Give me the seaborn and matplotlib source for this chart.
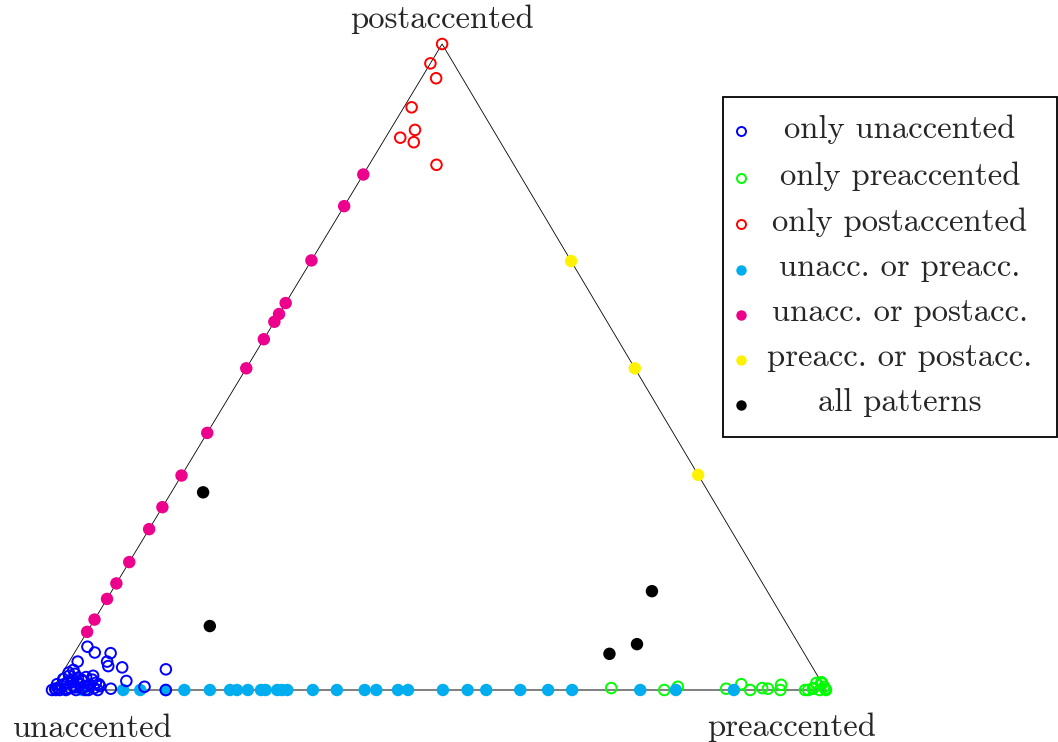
import numpy as np
import pandas as pd
import matplotlib
matplotlib.use("Agg")
import matplotlib.pyplot as plt
from matplotlib.lines import Line2D
from matplotlib.patches import Rectangle
import seaborn as sns

# ---- data: ternary shares (preaccented share, postaccented share); unaccented = 1 - p - q ----
only_unacc_pre = [0.012, 0.026, 0.047, 0.049, 0.054, 0.073, 0.011, 0.089, 0.117, 0.131, 0.147,
                  0.075, 0.056, 0.012,
                  0.000, 0.003, 0.006, 0.010, 0.010, 0.011, 0.017, 0.015, 0.022, 0.018, 0.025,
                  0.031, 0.024, 0.032, 0.037, 0.034, 0.034, 0.047, 0.045, 0.044, 0.053, 0.051,
                  0.059, 0.059, 0.002, 0.006, 0.011, 0.017, 0.030, 0.042, 0.042, 0.005, 0.018, 0.043,
                  0.008, 0.020, 0.028]
only_unacc_post = [0.067, 0.058, 0.057, 0.044, 0.037, 0.035, 0.044, 0.014, 0.005, 0.032, 0.000,
                   0.002, 0.009, 0.031,
                   0.000, 0.002, 0.003, 0.000, 0.006, 0.009, 0.002, 0.011, 0.003, 0.016, 0.006,
                   0.000, 0.019, 0.009, 0.003, 0.014, 0.020, 0.000, 0.008, 0.016, 0.003, 0.011,
                   0.000, 0.006, 0.009, 0.017, 0.022, 0.025, 0.016, 0.006, 0.022, 0.000, 0.000, 0.000,
                   0.027, 0.012, 0.004]

only_pre_pre = [0.721, 0.791, 0.806, 0.870, 0.886, 0.902, 0.916, 0.924, 0.941, 0.938, 0.973,
                0.982, 0.977, 0.982, 0.988, 0.990, 0.982, 0.992, 0.998, 1.000, 0.995]
only_pre_post = [0.003, 0.000, 0.005, 0.002, 0.009, 0.000, 0.003, 0.002, 0.000, 0.008, 0.000,
                 0.002, 0.000, 0.011, 0.012, 0.010, 0.003, 0.000, 0.002, 0.000, 0.005]

only_post_pre = [0.000, 0.000, 0.019, 0.010, 0.032, 0.019, 0.040, 0.087]
only_post_post = [1.000, 0.970, 0.947, 0.902, 0.867, 0.855, 0.848, 0.813]

unacc_or_pre_pre = [0.039, 0.092, 0.114, 0.147, 0.171, 0.204, 0.230, 0.239, 0.253, 0.270, 0.276,
                    0.291, 0.297, 0.304, 0.337, 0.368, 0.404, 0.419, 0.447, 0.460, 0.505, 0.537,
                    0.561, 0.605, 0.641, 0.672, 0.760, 0.806, 0.881]

unacc_or_post_post = [0.798, 0.749, 0.665, 0.599, 0.582, 0.570, 0.543, 0.498, 0.398, 0.332,
                      0.283, 0.249, 0.198, 0.165, 0.141, 0.109, 0.090]

pre_or_post_post = [0.664, 0.498, 0.333]

all_pre = [0.041, 0.154, 0.692, 0.720, 0.698]
all_post = [0.306, 0.099, 0.056, 0.071, 0.153]

labels = ["only unaccented", "only preaccented", "only postaccented",
          "unacc. or preacc.", "unacc. or postacc.", "preacc. or postacc.", "all patterns"]
colors = ["#0000ff", "#00ff00", "#ff0000", "#00aeef", "#ec008c", "#fff200", "#000000"]
vertex_names = ["unaccented", "preaccented", "postaccented"]

# ---- ternary geometry ----
CX, CY = 0.504, 0.8346  # apex position in axis units (base length 1)


def to_xy(p, q):
    p = np.asarray(p, float)
    q = np.asarray(q, float)
    return p + CX * q, CY * q


groups = [
    (only_unacc_pre, only_unacc_post),
    (only_pre_pre, only_pre_post),
    (only_post_pre, only_post_post),
    (unacc_or_pre_pre, [0.0] * len(unacc_or_pre_pre)),
    ([0.0] * len(unacc_or_post_post), unacc_or_post_post),
    ([1 - v for v in pre_or_post_post], pre_or_post_post),
    (all_pre, all_post),
]
frames = []
for i, (p, q) in enumerate(groups):
    x, y = to_xy(p, q)
    frames.append(pd.DataFrame({"x": x, "y": y, "group": labels[i]}))
df = pd.concat(frames, ignore_index=True)

sns.set_theme(style="white")
plt.rcParams["font.family"] = ["cmr10", "DejaVu Serif"]
plt.rcParams["axes.formatter.use_mathtext"] = True

W, H = 1058, 742
fig = plt.figure(figsize=(W / 100, H / 100), dpi=100)
ax = fig.add_axes([52 / W, 52 / H, 774 / W, 646 / H])
ax.set_xlim(0, 1)
ax.set_ylim(0, CY)
ax.axis("off")

# triangle
ax.plot([0, CX, 1], [0, CY, 0], color="black", lw=0.6, zorder=1, clip_on=False)
ax.plot([0, 1], [0, 0], color="#7f7f7f", lw=1.4, zorder=1, clip_on=False)

order = [1, 3, 0, 2, 4, 5, 6]
for i in order:
    sub = df[df["group"] == labels[i]]
    if i in (0, 1, 2):
        sns.scatterplot(data=sub, x="x", y="y", ax=ax, marker="o", s=58,
                        color=colors[i], facecolor="none", edgecolor=colors[i],
                        linewidth=1.4, zorder=3, clip_on=False, legend=False)
    else:
        sns.scatterplot(data=sub, x="x", y="y", ax=ax, marker="o", s=80,
                        color=colors[i], edgecolor="none", linewidth=0,
                        zorder=3, clip_on=False, legend=False)

# vertex labels
fs = 23.5
fig.text(92 / W, 1 - 728 / H, vertex_names[0], ha="center", va="center", fontsize=fs)
fig.text(792 / W, 1 - 727 / H, vertex_names[1], ha="center", va="center", fontsize=fs)
fig.text(442 / W, 1 - 19 / H, vertex_names[2], ha="center", va="center", fontsize=fs)

# legend (manual box)
fig.add_artist(Rectangle((723 / W, 1 - 437 / H), (1057 - 723) / W, (437 - 97) / H,
                         transform=fig.transFigure, fill=False, ec="black", lw=1.3))
row_y = [129, 176, 222, 267, 312, 357, 402]
for i, lab in enumerate(labels):
    yy = 1 - row_y[i] / H
    if i < 3:
        m = Line2D([741 / W], [yy - 2 / H], marker="o", ms=6.5, mfc="none", mec=colors[i],
                   mew=1.4, ls="none", transform=fig.transFigure)
    else:
        m = Line2D([741 / W], [yy - 3 / H], marker="o", ms=7.5, mfc=colors[i], mec="none",
                   ls="none", transform=fig.transFigure)
    fig.add_artist(m)
    fig.text(900 / W, yy, lab, ha="center", va="center", fontsize=fs)

fig.savefig("out.png", dpi=100)
